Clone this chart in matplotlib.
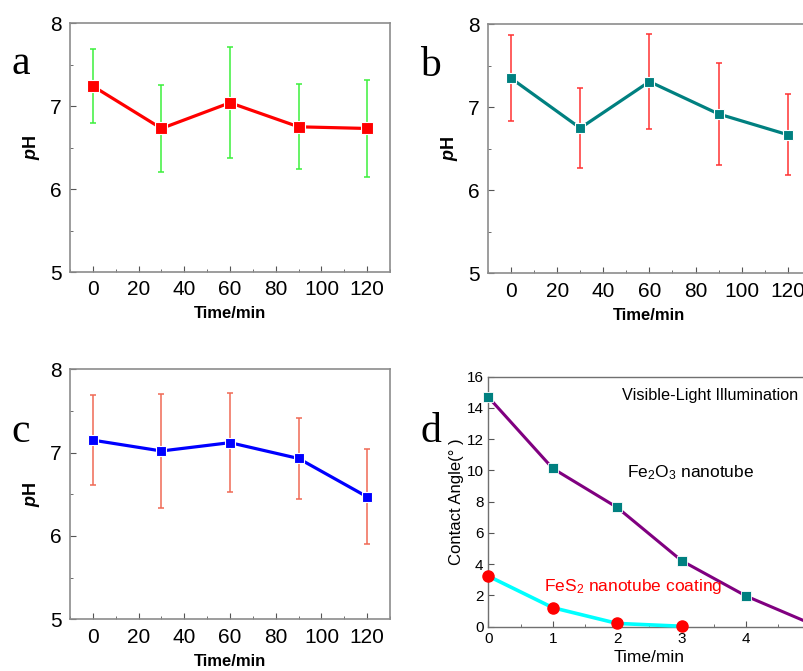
import numpy as np
import matplotlib.pyplot as plt
from matplotlib.ticker import MultipleLocator

plt.rcParams['font.family'] = ['Liberation Sans', 'DejaVu Sans']
plt.rcParams['mathtext.fontset'] = 'custom'
plt.rcParams['mathtext.it'] = 'Liberation Sans:italic:bold'
plt.rcParams['mathtext.rm'] = 'Liberation Sans'

# pH panels (a, b, c)
time_min = [0, 30, 60, 90, 120]

ph_a = [7.24, 6.73, 7.04, 6.75, 6.73]
err_a = [0.45, 0.52, 0.67, 0.51, 0.58]

ph_b = [7.35, 6.75, 7.31, 6.92, 6.67]
err_b = [0.52, 0.48, 0.57, 0.61, 0.49]

ph_c = [7.15, 7.02, 7.12, 6.93, 6.47]
err_c = [0.54, 0.68, 0.59, 0.49, 0.57]

# contact angle panel (d)
t_fe2o3 = [0, 1, 2, 3, 4, 5]
angle_fe2o3 = [14.7, 10.13, 7.63, 4.22, 1.96, 0.2]
t_fes2 = [0, 1, 2, 3]
angle_fes2 = [3.24, 1.22, 0.21, 0.03]

fig = plt.figure(figsize=(8.04, 6.71), dpi=100)

SPINE = '#8c8c8c'


def ph_panel(rect, y, err, line_c, marker_c, err_c, ms, letter, letter_xy):
    ax = fig.add_axes(rect)
    ax.errorbar(time_min, y, yerr=err, fmt='none', ecolor=err_c, elinewidth=1.1,
                capsize=2.5, capthick=1.1, zorder=2)
    ax.plot(time_min, y, color=line_c, lw=2.3, marker='s', ms=ms,
            mfc=marker_c, mec='white', mew=0.8, zorder=3)
    ax.set_xlim(-10, 130)
    ax.set_ylim(5, 8)
    ax.xaxis.set_major_locator(MultipleLocator(20))
    ax.xaxis.set_minor_locator(MultipleLocator(10))
    ax.yaxis.set_major_locator(MultipleLocator(1))
    ax.yaxis.set_minor_locator(MultipleLocator(0.5))
    ax.tick_params(which='both', direction='in', color='#555555', labelsize=15,
                   top=False, right=False, pad=6)
    ax.tick_params(which='major', length=4)
    ax.tick_params(which='minor', length=2)
    for s in ax.spines.values():
        s.set_color(SPINE)
        s.set_linewidth(1.2)
    ax.set_xlabel('Time/min', fontsize=12, fontweight='bold', labelpad=5)
    ax.set_ylabel(r'$\it{p}$H', fontsize=13, fontweight='bold', labelpad=6)
    fig.text(letter_xy[0], letter_xy[1], letter, family='Liberation Serif',
             fontsize=30, ha='left', va='baseline')
    return ax


ph_panel([0.0871, 0.5946, 0.398, 0.371], ph_a, err_a, '#ff0000', '#ff0000',
         '#3cf03c', 8.5, 'a', (0.014, 0.889))
ph_panel([0.607, 0.5927, 0.4015, 0.371], ph_b, err_b, '#008080', '#008080',
         '#ff3333', 7, 'b', (0.523, 0.887))
ph_panel([0.0871, 0.077, 0.398, 0.3726], ph_c, err_c, '#0000ff', '#0000ff',
         '#f06a55', 7.5, 'c', (0.014, 0.341))

# panel d
axd = fig.add_axes([0.6073, 0.066, 0.401, 0.3726])
axd.plot(t_fe2o3, angle_fe2o3, color='#800080', lw=2.2, marker='s', ms=6.5,
         mfc='#008080', mec='white', mew=0.6, zorder=3, clip_on=False)
axd.plot(t_fes2, angle_fes2, color='#00ffff', lw=2.6, marker='o', ms=8,
         mfc='#ff0000', mec='#ff0000', zorder=3, clip_on=False)
axd.set_xlim(0, 5)
axd.set_ylim(0, 16)
axd.set_xticks([0, 1, 2, 3, 4])
axd.xaxis.set_minor_locator(MultipleLocator(0.5))
axd.yaxis.set_major_locator(MultipleLocator(2))
axd.tick_params(which='both', direction='in', color='#555555', labelsize=11,
                top=False, right=False)
axd.tick_params(which='major', length=4)
axd.tick_params(which='minor', length=2)
for s in axd.spines.values():
    s.set_color('#707070')
    s.set_linewidth(1.0)
axd.set_xlabel('Time/min', fontsize=12.5, labelpad=3)
axd.set_ylabel('Contact Angle(° )', fontsize=12, labelpad=2)
axd.text(2.08, 14.8, 'Visible-Light Illumination', fontsize=11.7, va='center')
axd.text(2.15, 9.85, r'Fe$_2$O$_3$ nanotube', fontsize=12.5, va='center')
axd.text(0.87, 2.6, r'FeS$_2$ nanotube coating', fontsize=12.5, va='center',
         color='#ff0000')
fig.text(0.523, 0.341, 'd', family='Liberation Serif', fontsize=30,
         ha='left', va='baseline')

fig.savefig('out.png', dpi=100)
